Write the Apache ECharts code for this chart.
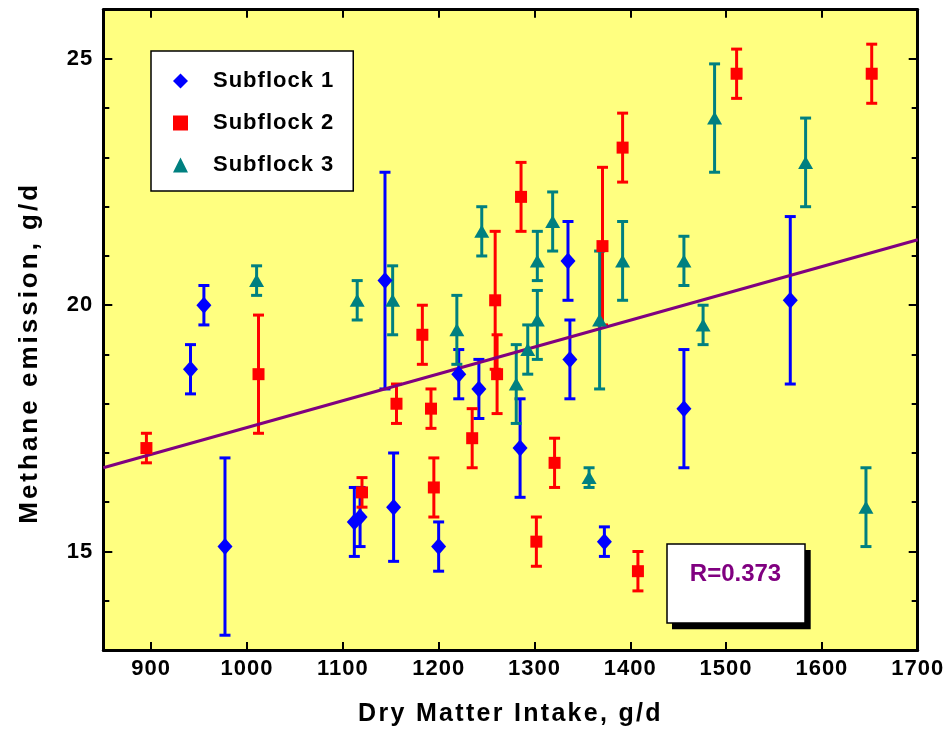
<!DOCTYPE html>
<html>
<head>
<meta charset="utf-8">
<script src="https://cdn.jsdelivr.net/npm/echarts@6/dist/echarts.min.js"></script>
<style>html,body{margin:0;padding:0;background:#fff;}#c{width:946px;height:738px;}</style>
</head>
<body>
<div id="c"></div>
<script>
// ---- data ----
const xTicks = [900, 1000, 1100, 1200, 1300, 1400, 1500, 1600, 1700];
const yTickLabels = [15, 20, 25];

const sf1X  = [941, 955, 977, 1112, 1118, 1144, 1153, 1200, 1221, 1242, 1285, 1335, 1337, 1373, 1456, 1567];
const sf1Y  = [18.7, 20.0, 15.1, 15.6, 15.7, 20.5, 15.9, 15.1, 18.6, 18.3, 17.1, 20.9, 18.9, 15.2, 17.9, 20.1];
const sf1Lo = [18.2, 19.6, 13.3, 14.9, 15.1, 18.3, 14.8, 14.6, 18.1, 17.7, 16.1, 20.1, 18.1, 14.9, 16.7, 18.4];
const sf1Hi = [19.2, 20.4, 16.9, 16.3, 16.3, 22.7, 17.0, 15.6, 19.1, 18.9, 18.1, 21.7, 19.7, 15.5, 19.1, 21.8];

const sf2X  = [895, 1012, 1120, 1156, 1183, 1192, 1195, 1235, 1259, 1261, 1286, 1302, 1321, 1371, 1392, 1408, 1511, 1652];
const sf2Y  = [17.1, 18.6, 16.2, 18.0, 19.4, 17.9, 16.3, 17.3, 20.1, 18.6, 22.2, 15.2, 16.8, 21.2, 23.2, 14.6, 24.7, 24.7];
const sf2Lo = [16.8, 17.4, 15.9, 17.6, 18.8, 17.5, 15.7, 16.7, 18.7, 17.8, 21.5, 14.7, 16.3, 19.6, 22.5, 14.2, 24.2, 24.1];
const sf2Hi = [17.4, 19.8, 16.5, 18.4, 20.0, 18.3, 16.9, 17.9, 21.5, 19.4, 22.9, 15.7, 17.3, 22.8, 23.9, 15.0, 25.2, 25.3];

const sf3X  = [1010, 1115, 1152, 1219, 1245, 1281, 1293, 1303, 1303, 1319, 1357, 1368, 1392, 1456, 1476, 1488, 1583, 1646];
const sf3Y  = [20.5, 20.1, 20.1, 19.5, 21.5, 18.4, 19.1, 19.7, 20.9, 21.7, 16.5, 19.7, 20.9, 20.9, 19.6, 23.8, 22.9, 15.9];
const sf3Lo = [20.2, 19.7, 19.4, 18.8, 21.0, 17.6, 18.6, 18.9, 20.5, 21.1, 16.3, 18.3, 20.1, 20.4, 19.2, 22.7, 22.0, 15.1];
const sf3Hi = [20.8, 20.5, 20.8, 20.2, 22.0, 19.2, 19.6, 20.3, 21.5, 22.3, 16.7, 21.1, 21.7, 21.4, 20.0, 24.9, 23.8, 16.7];

const fitX = [850, 1700];
const fitY = [16.70, 21.33];

const seriesNames = ['Subflock 1', 'Subflock 2', 'Subflock 3'];
const rText = 'R=0.373';

// ---- letter spacing for canvas text (by font size) ----
const SPACING = {22: 1, 25: 2.3, 26: 3};
(function () {
  const P = CanvasRenderingContext2D.prototype;
  if (!('letterSpacing' in P)) return;
  const wrap = function (orig) {
    return function () {
      const m = /(\d+(?:\.\d+)?)px/.exec(this.font);
      const fs = m ? parseFloat(m[1]) : 0;
      const sp = SPACING[fs] || 0;
      const prev = this.letterSpacing;
      this.letterSpacing = sp + 'px';
      const r = orig.apply(this, arguments);
      this.letterSpacing = prev;
      return r;
    };
  };
  P.fillText = wrap(P.fillText);
  P.strokeText = wrap(P.strokeText);
})();

const FF = '"Liberation Sans", Arial, Helvetica, sans-serif';
const colors = ['#0000FF', '#FF0000', '#008080'];

function pts(xs, ys) { return xs.map((x, i) => [x, ys[i]]); }
function errs(xs, lo, hi) { return xs.map((x, i) => [x, lo[i], hi[i]]); }
function errRender(color) {
  return function (params, api) {
    const x = api.value(0), lo = api.value(1), hi = api.value(2);
    const a = api.coord([x, lo]), b = api.coord([x, hi]);
    const hw = 5.5;
    const st = {stroke: color, lineWidth: 3};
    return {
      type: 'group',
      children: [
        {type: 'line', shape: {x1: a[0], y1: a[1], x2: b[0], y2: b[1]}, style: st},
        {type: 'line', shape: {x1: a[0] - hw, y1: a[1], x2: a[0] + hw, y2: a[1]}, style: st},
        {type: 'line', shape: {x1: b[0] - hw, y1: b[1], x2: b[0] + hw, y2: b[1]}, style: st}
      ]
    };
  };
}

const axisLineStyle = {show: true, onZero: false, lineStyle: {color: '#000', width: 3}};
const tickStyle = {color: '#000', width: 2};
const labelStyle = {fontSize: 22, fontWeight: 'bold', fontFamily: FF, color: '#000', formatter: v => String(v)};

const chart = echarts.init(document.getElementById('c'), null, {renderer: 'canvas'});
chart.setOption({
  animation: false,
  backgroundColor: '#ffffff',
  grid: {left: 103.3, top: 9.7, right: 28.3, bottom: 88, show: true, backgroundColor: '#FFFF80', borderWidth: 0},
  xAxis: [
    {type: 'value', position: 'bottom', min: 850, max: 1700, interval: 50,
      axisLine: axisLineStyle,
      axisTick: {show: true, inside: true, length: 8, customValues: xTicks, lineStyle: tickStyle},
      axisLabel: Object.assign({customValues: xTicks, margin: 8}, labelStyle),
      splitLine: {show: false},
      name: 'Dry Matter Intake, g/d', nameLocation: 'middle', nameGap: 52,
      nameTextStyle: {fontSize: 25, fontWeight: 'bold', fontFamily: FF, color: '#000'}},
    {type: 'value', position: 'top', min: 850, max: 1700, interval: 50,
      axisLine: axisLineStyle,
      axisTick: {show: true, inside: true, length: 8, customValues: xTicks, lineStyle: tickStyle},
      axisLabel: {show: false}, splitLine: {show: false}}
  ],
  yAxis: [
    {type: 'value', position: 'left', min: 13, max: 26, interval: 1,
      axisLine: axisLineStyle,
      axisTick: {show: true, inside: true, length: 6, lineStyle: tickStyle},
      axisLabel: Object.assign({customValues: yTickLabels, margin: 10}, labelStyle),
      splitLine: {show: false},
      name: 'Methane emission, g/d', nameLocation: 'middle', nameGap: 60,
      nameTextStyle: {fontSize: 26, fontWeight: 'bold', fontFamily: FF, color: '#000', padding: [0, 46, 0, 0]}},
    {type: 'value', position: 'left', min: 13, max: 26, interval: 1,
      axisLine: {show: false},
      axisTick: {show: true, inside: true, length: 9, customValues: yTickLabels, lineStyle: tickStyle},
      axisLabel: {show: false}, splitLine: {show: false}},
    {type: 'value', position: 'right', min: 13, max: 26, interval: 1,
      axisLine: axisLineStyle,
      axisTick: {show: true, inside: true, length: 6, lineStyle: tickStyle},
      axisLabel: {show: false}, splitLine: {show: false}},
    {type: 'value', position: 'right', min: 13, max: 26, interval: 1,
      axisLine: {show: false},
      axisTick: {show: true, inside: true, length: 9, customValues: yTickLabels, lineStyle: tickStyle},
      axisLabel: {show: false}, splitLine: {show: false}}
  ],
  legend: {
    left: 151, top: 51, orient: 'vertical', selectedMode: false,
    padding: [19, 29, 15, 22], itemWidth: 15, itemHeight: 15, itemGap: 20,
    backgroundColor: '#fff', borderColor: '#000', borderWidth: 1.5,
    textStyle: {fontSize: 22, fontWeight: 'bold', fontFamily: FF, color: '#000', padding: [0, 0, 0, 20]},
    data: [
      {name: seriesNames[0], icon: 'diamond'},
      {name: seriesNames[1], icon: 'rect'},
      {name: seriesNames[2], icon: 'triangle'}
    ]
  },
  series: [
    {type: 'custom', name: 'err1', renderItem: errRender(colors[0]), data: errs(sf1X, sf1Lo, sf1Hi), encode: {x: 0, y: [1, 2]}, z: 2, silent: true},
    {type: 'custom', name: 'err2', renderItem: errRender(colors[1]), data: errs(sf2X, sf2Lo, sf2Hi), encode: {x: 0, y: [1, 2]}, z: 2, silent: true},
    {type: 'custom', name: 'err3', renderItem: errRender(colors[2]), data: errs(sf3X, sf3Lo, sf3Hi), encode: {x: 0, y: [1, 2]}, z: 2, silent: true},
    {type: 'line', name: 'fit', data: pts(fitX, fitY), showSymbol: false, symbol: 'none',
      lineStyle: {color: '#800080', width: 3}, z: 3, silent: true},
    {type: 'scatter', name: seriesNames[0], data: pts(sf1X, sf1Y), symbol: 'diamond', symbolSize: [15, 17],
      itemStyle: {color: colors[0], opacity: 1}, z: 4},
    {type: 'scatter', name: seriesNames[1], data: pts(sf2X, sf2Y), symbol: 'rect', symbolSize: 12,
      itemStyle: {color: colors[1], opacity: 1}, z: 4},
    {type: 'scatter', name: seriesNames[2], data: pts(sf3X, sf3Y), symbol: 'triangle', symbolSize: [15, 13],
      itemStyle: {color: colors[2], opacity: 1}, z: 4}
  ],
  graphic: [
    {type: 'rect', shape: {x: 672, y: 550, width: 138.7, height: 79.3}, style: {fill: '#000'}, z: 100},
    {type: 'rect', shape: {x: 667, y: 544, width: 138, height: 79}, style: {fill: '#fff', stroke: '#000', lineWidth: 1.5}, z: 101},
    {type: 'text', x: 735.5, y: 574, z: 102,
      style: {text: rText, fill: '#800080', font: 'bold 24px ' + FF, align: 'center', verticalAlign: 'middle', textAlign: 'center', textVerticalAlign: 'middle'}}
  ]
});
</script>
</body>
</html>
